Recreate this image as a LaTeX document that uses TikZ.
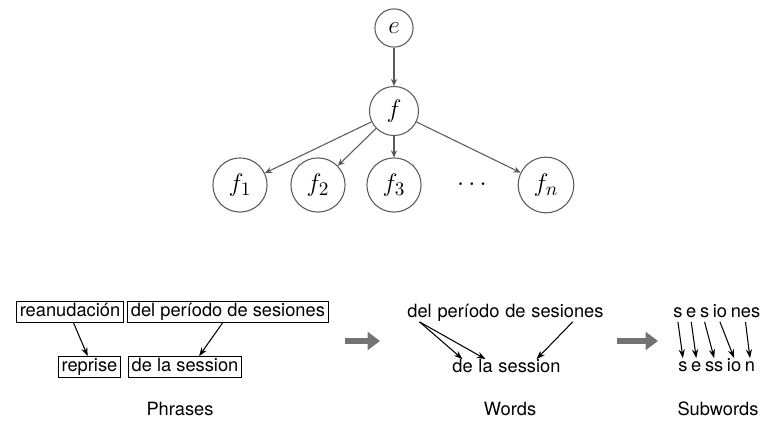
\documentclass[tikz,border=0pt]{standalone}
\usepackage{fontspec}
\setmainfont{TeX Gyre Heros}
\usetikzlibrary{arrows.meta,positioning}

\begin{document}
\begin{tikzpicture}[x=0.02cm,y=-0.02cm,
vert/.style={circle,draw=black!65,line width=0.6pt,inner sep=4.5pt,font=\fontsize{15}{18}\selectfont},
edge/.style={draw=black!65,line width=0.6pt,-{Stealth[length=4pt,width=3.5pt]}},
word/.style={inner sep=0pt,text height=7.5pt,text depth=2.2pt,font=\fontsize{10.4}{12}\selectfont},
phr/.style={word,draw,line width=0.6pt,inner xsep=2pt,inner ysep=1pt},
link/.style={line width=0.6pt,-{Stealth[length=5pt,width=3.5pt]}},
big/.style={draw=black!55,line width=3.5pt,-{Triangle[length=7pt,width=10pt]}}
]
\useasboundingbox (0,0) rectangle (771,430);
\node[vert] (e) at (394,28) {$e$};
\node[vert] (f) at (394,111) {$f$};
\node[vert] (f1) at (240,185) {$f_1$};
\node[vert] (f2) at (318,185) {$f_2$};
\node[vert] (f3) at (394,185) {$f_3$};
\node[font=\fontsize{15}{18}\selectfont] (dots) at (472,185) {$\cdots$};
\node[vert] (fn) at (546,185) {$f_n$};
\draw[edge] (e) -- (f);
\draw[edge] (f) -- (f1);
\draw[edge] (f) -- (f2);
\draw[edge] (f) -- (f3);
\draw[edge] (f) -- (fn);

\node[phr] (ra) at (70,312) {reanudación};
\node[phr,right=1.5pt of ra] (rb) {del período de sesiones};
\node[phr] (rc) at (89.5,367) {reprise};
\node[phr] (rd) at (185,367) {de la session};
\draw[link] ([xshift=2pt]ra.south) -- ([xshift=-1pt]rc.north);
\draw[link] ([xshift=-3pt]rb.south) -- ([xshift=8pt]rd.north);
\node[word] (cp) at (180,411) {Phrases};

\coordinate (g1) at (345,341);
\coordinate (g2) at (380,341);
\draw[big] (g1) -- (g2);

\node[word,anchor=west] (w1) at (407,313) {del};
\node[word,right=2.9pt of w1] (w2) {período};
\node[word,right=2.9pt of w2] (w3) {de};
\node[word,right=2.9pt of w3] (w4) {sesiones};
\node[word,anchor=west] (v1) at (452,368) {de};
\node[word,right=2.9pt of v1] (v2) {la};
\node[word,right=2.9pt of v2] (v3) {session};
\draw[link] (w1.south) -- (v1.north);
\draw[link] (w1.south) -- (v2.north);
\draw[link] ([xshift=3pt]w4.south) -- ([xshift=4pt]v3.north);
\node[word] (cw) at (510,411) {Words};

\coordinate (g3) at (617,341);
\coordinate (g4) at (658,341);
\draw[big] (g3) -- (g4);

\node[word,anchor=west] (a1) at (673,313) {s};
\node[word,right=1.7pt of a1] (a2) {e};
\node[word,right=1.7pt of a2] (a3) {s};
\node[word,right=1.7pt of a3] (a4) {io};
\node[word,right=1.7pt of a4] (a5) {nes};
\node[word,anchor=west] (b1) at (678,367) {s};
\node[word,right=1.7pt of b1] (b2) {e};
\node[word,right=1.7pt of b2] (b3) {ss};
\node[word,right=1.7pt of b3] (b4) {io};
\node[word,right=1.7pt of b4] (b5) {n};
\foreach \i in {1,...,5}
  \draw[link] (a\i.south) -- (b\i.north);
\node[word] (cs) at (718,411) {Subwords};
\end{tikzpicture}
\end{document}
